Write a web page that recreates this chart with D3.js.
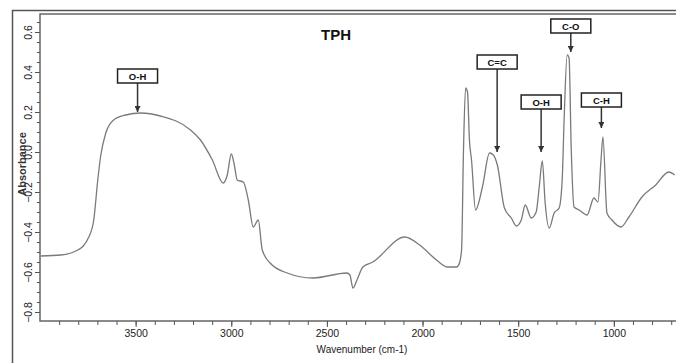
<!DOCTYPE html>
<html>
<head>
<meta charset="utf-8">
<script src="https://cdn.jsdelivr.net/npm/d3@7"></script>
<style>
  body { margin: 0; background: #fff; }
  svg { display: block; font-family: "Liberation Sans", Arial, sans-serif; }
</style>
</head>
<body>
<div id="chart"></div>
<script>
// spectrum: wavenumber (cm-1) and absorbance
var wavenumbers = [3995, 3891, 3802, 3745, 3719, 3698, 3682, 3656, 3615, 3552, 3474, 3370, 3213, 3161, 3099, 3042,
    3021, 3000, 2984, 2969, 2937, 2911, 2885, 2859, 2838, 2797, 2708, 2573, 2396, 2380, 2364, 2343, 2312, 2260,
    2093, 2015, 1927, 1869, 1822, 1807, 1796, 1786, 1775, 1765, 1755, 1744, 1723, 1687, 1650, 1630, 1609, 1572,
    1536, 1510, 1484, 1463, 1432, 1406, 1390, 1374, 1359, 1338, 1312, 1286, 1270, 1260, 1244, 1234, 1223, 1208,
    1182, 1140, 1104, 1083, 1067, 1057, 1036, 1010, 963, 921, 853, 781, 713, 682];
var absorbance = [-0.52, -0.515, -0.49, -0.425, -0.34, -0.14, -0.015, 0.095, 0.16, 0.185, 0.195, 0.18, 0.11, 0.06, -0.04, -0.155,
    -0.115, -0.01, -0.065, -0.14, -0.15, -0.24, -0.375, -0.34, -0.49, -0.555, -0.605, -0.63, -0.605, -0.615, -0.68, -0.64, -0.575, -0.55,
    -0.425, -0.465, -0.54, -0.575, -0.575, -0.555, -0.49, 0.01, 0.32, 0.3, 0.06, -0.04, -0.29, -0.175, -0.005, -0.015, -0.065, -0.28,
    -0.33, -0.37, -0.34, -0.265, -0.33, -0.3, -0.175, -0.045, -0.255, -0.38, -0.305, -0.28, -0.14, 0.16, 0.485, 0.47, 0.025, -0.275,
    -0.29, -0.315, -0.23, -0.25, -0.04, 0.075, -0.305, -0.34, -0.375, -0.325, -0.225, -0.165, -0.1, -0.115];

// band annotations: label, wavenumber of arrow, absorbance of box and of arrow tip
var bandLabels = ["O-H", "C=C", "O-H", "C-O", "C-H"];
var bandWave = [3490, 1610, 1380, 1225, 1065];
var bandBoxAt = [0.38, 0.45, 0.25, 0.63, 0.26];
var bandTipAt = [0.2, 0.0, 0.0, 0.5, 0.12];

var xTicks = [3500, 3000, 2500, 2000, 1500, 1000];
var yTicks = [0.6, 0.4, 0.2, 0.0, -0.2, -0.4, -0.6, -0.8];

const width = 676, height = 363;
const margin = { top: 14, right: 0, bottom: 42, left: 40 };

var svg = d3.select("#chart")
    .append("svg")
    .attr("width", width)
    .attr("height", height);

// outer frame of the figure
svg.append("rect")
    .attr("x", 12.5).attr("y", 10.5)
    .attr("width", width).attr("height", height)
    .attr("fill", "none")
    .attr("stroke", "#555")
    .attr("stroke-width", 1.5);

const x = d3.scaleLinear()
    .domain([4000, 675])
    .range([margin.left, width - margin.right]);

const y = d3.scaleLinear()
    .domain([0.69, -0.845])
    .range([margin.top, height - margin.bottom]);

// plot border (top + left + bottom)
svg.append("path")
    .attr("d", `M${width},${margin.top}H${margin.left}V${height - margin.bottom}H${width}`)
    .attr("fill", "none")
    .attr("stroke", "#666")
    .attr("stroke-width", 1.5);

// x axis, major every 500, minor every 100
var xAxisG = svg.append("g")
    .attr("transform", `translate(0,${height - margin.bottom})`);
xAxisG.append("g")
    .call(d3.axisBottom(x).tickValues(d3.range(700, 4000, 100)).tickSize(4).tickFormat(""))
    .call(g => g.select(".domain").remove());
xAxisG.append("g")
    .call(d3.axisBottom(x).tickValues(xTicks).tickSize(6).tickPadding(3).tickFormat(d3.format("d")))
    .call(g => g.select(".domain").remove())
    .selectAll("text")
    .attr("font-size", 10.5)
    .attr("fill", "#222");
xAxisG.selectAll("line").attr("stroke", "#555");

// y axis, minor every 0.05, labels turned to read upward
var yAxisG = svg.append("g")
    .attr("transform", `translate(${margin.left},0)`);
yAxisG.append("g")
    .call(d3.axisLeft(y).tickValues(d3.range(-0.8, 0.66, 0.05)).tickSize(3).tickFormat(""))
    .call(g => g.select(".domain").remove());
yAxisG.append("g")
    .call(d3.axisLeft(y).tickValues(yTicks).tickSize(5).tickFormat(d3.format(".1f")))
    .call(g => g.select(".domain").remove())
    .selectAll("text")
    .attr("font-size", 10.5)
    .attr("fill", "#222")
    .attr("text-anchor", "middle")
    .attr("transform", "rotate(-90)")
    .attr("x", 0)
    .attr("y", -11)
    .attr("dy", "0.32em");
yAxisG.selectAll("line").attr("stroke", "#555");

// axis titles
svg.append("text")
    .attr("x", 362).attr("y", 353)
    .attr("text-anchor", "middle")
    .attr("font-size", 10)
    .attr("fill", "#222")
    .text("Wavenumber (cm-1)");

svg.append("text")
    .attr("transform", "translate(25.5,164) rotate(-90)")
    .attr("text-anchor", "middle")
    .attr("font-size", 11)
    .attr("font-weight", "bold")
    .attr("fill", "#333")
    .text("Absorbance");

svg.append("text")
    .attr("x", 336).attr("y", 40)
    .attr("text-anchor", "middle")
    .attr("font-size", 15)
    .attr("font-weight", "bold")
    .attr("fill", "#111")
    .text("TPH");

// spectrum line
var spectrum = wavenumbers.map((w, i) => [w, absorbance[i]]);
var line = d3.line()
    .x(d => x(d[0]))
    .y(d => y(d[1]))
    .curve(d3.curveMonotoneX);

svg.append("path")
    .datum(spectrum.slice().reverse())
    .attr("d", line)
    .attr("fill", "none")
    .attr("stroke", "#7a7a7a")
    .attr("stroke-width", 1.3);

// band markers: box + arrow
svg.append("defs").append("marker")
    .attr("id", "arrow")
    .attr("viewBox", "0 0 10 10")
    .attr("refX", 10).attr("refY", 5)
    .attr("markerWidth", 4).attr("markerHeight", 4)
    .attr("orient", "auto")
    .append("path")
    .attr("d", "M0,0L10,5L0,10z")
    .attr("fill", "#333");

var bands = svg.append("g")
    .selectAll("g")
    .data(bandLabels)
    .enter()
    .append("g");

bands.append("line")
    .attr("x1", (d, i) => x(bandWave[i]))
    .attr("x2", (d, i) => x(bandWave[i]))
    .attr("y1", (d, i) => y(bandBoxAt[i]) + 7)
    .attr("y2", (d, i) => y(bandTipAt[i]))
    .attr("stroke", "#333")
    .attr("stroke-width", 1.5)
    .attr("marker-end", "url(#arrow)");

bands.append("rect")
    .attr("x", (d, i) => x(bandWave[i]) - 20)
    .attr("y", (d, i) => y(bandBoxAt[i]) - 7)
    .attr("width", 40)
    .attr("height", 14)
    .attr("fill", "#fff")
    .attr("stroke", "#222")
    .attr("stroke-width", 1.5);

bands.append("text")
    .attr("x", (d, i) => x(bandWave[i]))
    .attr("y", (d, i) => y(bandBoxAt[i]) + 3.5)
    .attr("text-anchor", "middle")
    .attr("font-size", 9.5)
    .attr("font-weight", "bold")
    .attr("fill", "#111")
    .text(d => d);
</script>
</body>
</html>
